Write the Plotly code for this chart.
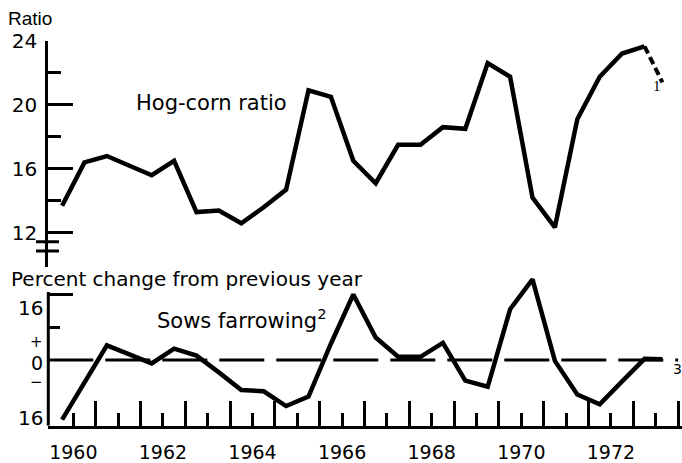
import plotly.graph_objects as go

W, H = 682, 463

# ---- data ----
# half-year periods plotted at decimal-year positions
periods = [1959.75, 1960.25, 1960.75, 1961.25, 1961.75, 1962.25, 1962.75, 1963.25,
           1963.75, 1964.25, 1964.75, 1965.25, 1965.75, 1966.25, 1966.75, 1967.25,
           1967.75, 1968.25, 1968.75, 1969.25, 1969.75, 1970.25, 1970.75, 1971.25,
           1971.75, 1972.25, 1972.75]
hog_corn_ratio = [13.7, 16.4, 16.8, 16.2, 15.6, 16.5, 13.3, 13.4,
                  12.6, 13.6, 14.7, 20.9, 20.5, 16.5, 15.1, 17.5,
                  17.5, 18.6, 18.5, 22.6, 21.75, 14.2, 12.35, 19.1,
                  21.75, 23.2, 23.65]
# preliminary (dashed) segment
hog_corn_prelim_x = [1972.75, 1973.15]
hog_corn_prelim = [23.65, 21.4]

sows_x = periods + [1973.15]
sows_farrowing_pct = [-14.5, -5.5, 3.6, 1.4, -0.8, 2.8, 1.1, -3.0,
                      -7.3, -7.6, -11.2, -8.9, 4.0, 16.0, 5.5, 0.8,
                      0.8, 4.2, -5.0, -6.5, 12.4, 19.7, -0.2, -8.4,
                      -10.8, -5.2, 0.3, 0.2]

year_ticks = list(range(1960, 1974))
year_labels = [str(y) if y % 2 == 0 else "" for y in year_ticks]
half_year_ticks = [y + 0.5 for y in range(1960, 1974)]
ratio_ticks = [12, 16, 20, 24]
ratio_minor = [14, 18, 22]
pct_axis_top = 16.6

XR = [1959.442, 1973.587]
Y2R = [-16, 21.0]   # extra head-room so the 1970 peak is not clipped


def px(xp):
    return xp / W


def py(yp):
    return (H - yp) / H


fig = go.Figure()
line_style = dict(color="black", width=4.5)
fig.add_trace(go.Scatter(x=periods, y=hog_corn_ratio, mode="lines", line=line_style,
                         xaxis="x", yaxis="y", showlegend=False, hoverinfo="skip"))
fig.add_trace(go.Scatter(x=hog_corn_prelim_x, y=hog_corn_prelim, mode="lines",
                         line=dict(color="black", width=4, dash="8px,4px"),
                         xaxis="x", yaxis="y", showlegend=False, hoverinfo="skip"))
fig.add_trace(go.Scatter(x=sows_x, y=sows_farrowing_pct, mode="lines", line=line_style,
                         xaxis="x2", yaxis="y2", showlegend=False, hoverinfo="skip"))

xdom = [48.3 / W, 1.0]
# lower panel: -16 at 425.7 px, 4.1 px per unit
y2_top_px = 425.7 - (Y2R[1] - Y2R[0]) * 4.1
fig.update_layout(
    width=W, height=H,
    margin=dict(l=0, r=0, t=0, b=0, autoexpand=False),
    paper_bgcolor="white", plot_bgcolor="white",
    font=dict(family="DejaVu Sans", color="black", size=20),
    showlegend=False,
    xaxis=dict(domain=xdom, range=XR, visible=False, anchor="y", automargin=False),
    yaxis=dict(domain=[py(267), py(40.7)], range=[9.87, 24], anchor="x",
               automargin=False,
               showline=True, linewidth=3, linecolor="black",
               showgrid=False, zeroline=False,
               tickmode="array", tickvals=ratio_ticks, ticks="inside",
               ticklen=25, tickwidth=3, tickcolor="black",
               tickfont=dict(family="DejaVu Sans", size=20), ticklabelstandoff=4,
               minor=dict(tickmode="array", tickvals=ratio_minor, ticks="inside",
                          ticklen=13, tickwidth=3, tickcolor="black", showgrid=False)),
    xaxis2=dict(domain=xdom, range=XR, anchor="y2", automargin=False,
                showline=True, linewidth=3, linecolor="black",
                showgrid=False, zeroline=False,
                tickmode="array", tickvals=year_ticks, ticktext=year_labels,
                ticks="inside", ticklen=13, tickwidth=2.5, tickcolor="black",
                tickfont=dict(family="DejaVu Sans", size=19), ticklabelstandoff=7,
                minor=dict(tickmode="array", tickvals=half_year_ticks, ticks="inside",
                           ticklen=25, tickwidth=2.5, tickcolor="black", showgrid=False)),
    yaxis2=dict(domain=[py(425.7), py(y2_top_px)], range=Y2R, anchor="x2",
                automargin=False,
                showline=False, showgrid=False, zeroline=False,
                tickmode="array", tickvals=[16], ticks="inside", ticklen=25,
                tickwidth=3, tickcolor="black", showticklabels=False,
                minor=dict(tickmode="array", tickvals=[8], ticks="inside",
                           ticklen=12, tickwidth=3, tickcolor="black", showgrid=False)),
)

# vertical axis line of the lower panel (stops just above 16)
fig.add_shape(type="line", xref="paper", yref="y2", x0=px(48.3), x1=px(48.3),
              y0=Y2R[0], y1=pct_axis_top, line=dict(color="black", width=3))
# axis break marks and zero reference line
for yv in (11.44, 10.87):
    fig.add_shape(type="line", xref="paper", yref="y", x0=px(36), x1=px(59),
                  y0=yv, y1=yv, line=dict(color="black", width=3))
fig.add_shape(type="line", xref="x2", yref="y2", x0=XR[0], x1=1973.5, y0=0, y1=0,
              line=dict(color="black", width=3, dash="45px,12px"), layer="below")


def note(text, x, y, size, xanchor="left", family="DejaVu Sans", height=None):
    fig.add_annotation(text=text, xref="paper", yref="paper", x=px(x), y=py(y),
                       xanchor=xanchor, yanchor="middle", showarrow=False,
                       height=height, borderpad=0,
                       font=dict(family=family, size=size, color="black"))


note("Ratio", 7, 18, 19, family="Liberation Sans")
note("Hog-corn ratio", 135, 103, 21)
note("1", 657, 86, 15, xanchor="center", family="Liberation Serif")
note("Percent change from previous year", 10, 279, 20)
note("Sows farrowing<sup>2</sup>", 156, 319, 21)
note("3", 677, 369, 14, xanchor="center")
# left-side labels of the lower panel
note("16", 44, 308, 20, xanchor="right")
note("+", 44, 342, 15, xanchor="right")
note("0", 44, 363, 19, xanchor="right")
note("\u2212", 44, 382, 15, xanchor="right")
note("16", 44, 418, 20, xanchor="right")

fig.write_html("out.html", post_script="document.body.style.margin='0';",
               config={"displayModeBar": False})
